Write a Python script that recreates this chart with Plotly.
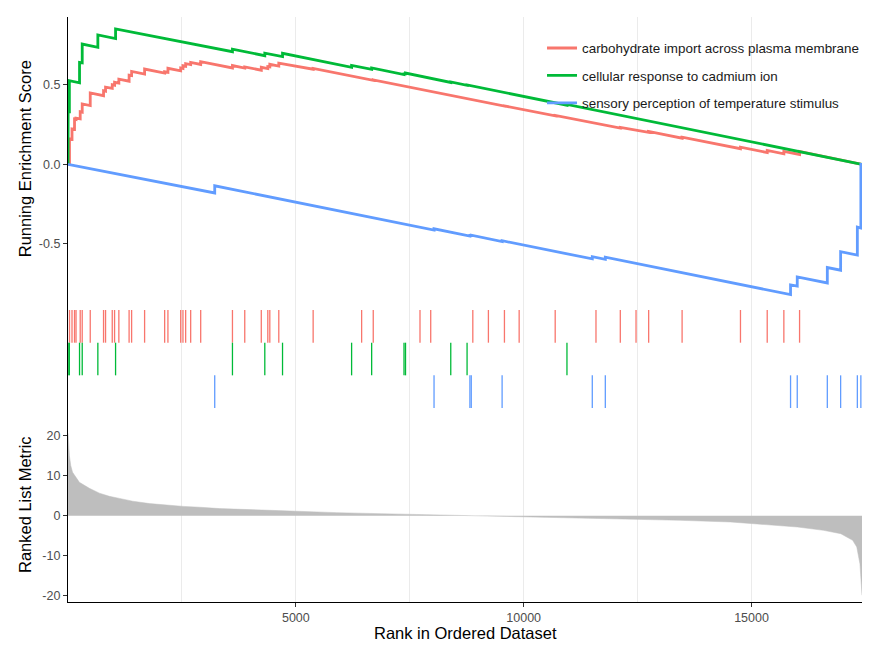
import plotly.graph_objects as go

# total number of ranked genes
N = 17425

set_names = ["carbohydrate import across plasma membrane",
             "cellular response to cadmium ion",
             "sensory perception of temperature stimulus"]
set_colors = ["#F8766D", "#00BA38", "#619CFF"]

# hit ranks and running enrichment score just before / after each hit
red_hits = [33, 88, 143, 176, 268, 312, 488, 780, 824, 971, 1022, 1116, 1341, 1396, 1681,
            2121, 2193, 2473, 2523, 2582, 2692, 2912, 3609, 3879, 4242, 4385, 4429, 4626,
            5380, 6444, 6699, 7725, 7960, 8884, 9226, 9578, 9901, 10692, 11587, 12121,
            12466, 12743, 13477, 14758, 15345, 15710, 16055]
red_before = [0.000, 0.157, 0.219, 0.282, 0.285, 0.327, 0.369, 0.431, 0.459, 0.477, 0.497,
              0.510, 0.522, 0.557, 0.567, 0.573, 0.577, 0.587, 0.602, 0.616, 0.626, 0.627,
              0.605, 0.604, 0.591, 0.601, 0.612, 0.617, 0.597, 0.540, 0.527, 0.470, 0.457,
              0.405, 0.385, 0.366, 0.348, 0.304, 0.256, 0.228, 0.213, 0.201, 0.164, 0.098,
              0.074, 0.066, 0.062]
red_after = [0.160, 0.222, 0.284, 0.290, 0.330, 0.379, 0.448, 0.462, 0.485, 0.500, 0.515,
             0.535, 0.560, 0.583, 0.598, 0.581, 0.603, 0.605, 0.619, 0.632, 0.640, 0.645,
             0.620, 0.612, 0.609, 0.614, 0.628, 0.635, 0.602, 0.543, 0.530, 0.472, 0.459,
             0.406, 0.386, 0.367, 0.350, 0.307, 0.259, 0.232, 0.217, 0.206, 0.170, 0.108,
             0.087, 0.081, 0.081]

green_hits = [3, 30, 253, 312, 655, 1044, 3609, 4319, 4708, 6224, 6664, 7374, 7407, 8400,
              8758, 10950]
green_before = [0.000, 0.330, 0.512, 0.637, 0.735, 0.790, 0.707, 0.682, 0.676, 0.609, 0.596,
                0.563, 0.568, 0.514, 0.496, 0.371]
green_after = [0.330, 0.525, 0.640, 0.755, 0.812, 0.850, 0.723, 0.698, 0.697, 0.621, 0.605,
               0.568, 0.573, 0.517, 0.498, 0.376]

blue_hits = [3220, 8033, 8820, 8850, 9527, 11506, 11792, 15857, 16004, 16664, 16956, 17323,
             17400]
blue_before = [-0.180, -0.413, -0.451, -0.447, -0.485, -0.594, -0.597, -0.818, -0.765,
               -0.745, -0.665, -0.570, -0.400]
blue_after = [-0.135, -0.405, -0.447, -0.445, -0.480, -0.580, -0.583, -0.757, -0.707,
              -0.648, -0.549, -0.394, 0.000]

# ranked list metric (read along the grey profile)
metric_rank = [1, 10, 30, 60, 100, 250, 470, 690, 910, 1130, 1420, 1790, 2160, 2540, 2890,
               3330, 4430, 5020, 5900, 6850, 7880, 8980, 10140, 11460, 12190, 13440, 14540,
               15040, 16010, 16580, 16960, 17220, 17310, 17380, 17425]
metric_value = [20.5, 17.5, 15.0, 12.5, 10.8, 8.3, 6.8, 5.6, 4.8, 4.3, 3.6, 3.0, 2.6, 2.3,
                2.1, 1.75, 1.33, 1.08, 0.75, 0.5, 0.25, 0.0, -0.33, -0.55, -0.75, -1.16,
                -1.58, -2.0, -2.83, -3.66, -4.49, -6.15, -7.8, -12.0, -19.8]

x_ticks = [5000, 10000, 15000]
x_ticktext = ["5000", "10000", "15000"]
es_ticks = [-0.5, 0.0, 0.5]
es_ticktext = ["-0.5", "0.0", "0.5"]
metric_ticks = [-20, -10, 0, 10, 20]
metric_ticktext = ["-20", "-10", "0", "10", "20"]

FONT = "Liberation Sans, Arial, sans-serif"
sets = [(red_hits, red_before, red_after),
        (green_hits, green_before, green_after),
        (blue_hits, blue_before, blue_after)]

fig = go.Figure()

# running enrichment score curves
for i, (hits, before, after) in enumerate(sets):
    xs, ys = [0], [0.0]
    for h, b, a in zip(hits, before, after):
        xs += [h, h]
        ys += [b, a]
    xs.append(N)
    ys.append(0.0)
    fig.add_trace(go.Scatter(x=xs, y=ys, mode="lines", name=set_names[i],
                             line=dict(color=set_colors[i], width=2.8),
                             legendgroup=str(i), xaxis="x3", yaxis="y3"))

# hit rug, one row per gene set
for i, (hits, _, _) in enumerate(sets):
    lo, hi = 2 - i, 3 - i
    xs, ys = [], []
    for h in hits:
        xs += [h, h, None]
        ys += [lo, hi, None]
    fig.add_trace(go.Scatter(x=xs, y=ys, mode="lines", showlegend=False,
                             line=dict(color=set_colors[i], width=1.3),
                             xaxis="x2", yaxis="y2", hoverinfo="skip"))

# ranked list metric
fig.add_trace(go.Scatter(x=metric_rank, y=metric_value, mode="lines", fill="tozeroy",
                         fillcolor="#BEBEBE", line=dict(color="#BEBEBE", width=0.5),
                         showlegend=False, xaxis="x", yaxis="y"))

grid = dict(showgrid=True, gridcolor="#EBEBEB", gridwidth=1,
            minor=dict(tickvals=[2500, 7500, 12500], showgrid=True,
                       gridcolor="#EBEBEB", gridwidth=1))

# the page body adds an 8px offset, so margins are shifted to keep the panels in place
fig.update_layout(
    width=880, height=660,
    margin=dict(l=60, r=26, t=9, b=66, autoexpand=False),
    paper_bgcolor="white", plot_bgcolor="white",
    font=dict(family=FONT, color="black"),
    xaxis=dict(domain=[0, 1], range=[0, N], anchor="y", showline=True, linecolor="black",
               linewidth=1.3, ticks="outside", ticklen=4, tickcolor="#333333",
               tickvals=x_ticks, ticktext=x_ticktext,
               tickfont=dict(size=12.5, color="#4D4D4D"),
               zeroline=False, automargin=False, **grid),
    xaxis2=dict(matches="x", anchor="y2", showticklabels=False, ticks="",
                showline=False, zeroline=False, tickvals=x_ticks, automargin=False, **grid),
    xaxis3=dict(matches="x", anchor="y3", showticklabels=False, ticks="",
                showline=False, zeroline=False, tickvals=x_ticks, automargin=False, **grid),
    yaxis=dict(domain=[0, 0.3316], range=[-21.5, 26.8], tickvals=metric_ticks,
               ticktext=metric_ticktext, ticks="outside", ticklen=4, tickcolor="#333333",
               tickfont=dict(size=12.5, color="#4D4D4D"), showline=True,
               linecolor="black", linewidth=1.3, showgrid=False, zeroline=False,
               automargin=False),
    yaxis2=dict(domain=[0.3316, 0.4991], range=[0, 3], showticklabels=False, ticks="",
                showline=True, linecolor="black", linewidth=1.3, showgrid=False,
                zeroline=False, automargin=False),
    yaxis3=dict(domain=[0.4991, 1], range=[-0.915, 0.925], tickvals=es_ticks,
                ticktext=es_ticktext, ticks="outside", ticklen=4, tickcolor="#333333",
                tickfont=dict(size=12.5, color="#4D4D4D"), showline=True,
                linecolor="black", linewidth=1.3, showgrid=False, zeroline=False,
                automargin=False),
    legend=dict(x=0.597, y=0.973, xanchor="left", yanchor="top",
                bgcolor="rgba(255,255,255,0)", font=dict(size=13.4, color="#1A1A1A"),
                tracegroupgap=7, itemwidth=30),
    showlegend=True,
    annotations=[
        dict(text="Running Enrichment Score", xref="paper", yref="paper",
             x=-0.054, y=0.757, textangle=-90, showarrow=False,
             font=dict(size=16.5), xanchor="center", yanchor="middle"),
        dict(text="Ranked List Metric", xref="paper", yref="paper",
             x=-0.054, y=0.166, textangle=-90, showarrow=False,
             font=dict(size=16.5), xanchor="center", yanchor="middle"),
        dict(text="Rank in Ordered Dataset", xref="paper", yref="paper",
             x=0.5, y=-0.053, showarrow=False, font=dict(size=16.5),
             xanchor="center", yanchor="middle"),
    ],
)

fig.write_html("out.html")
